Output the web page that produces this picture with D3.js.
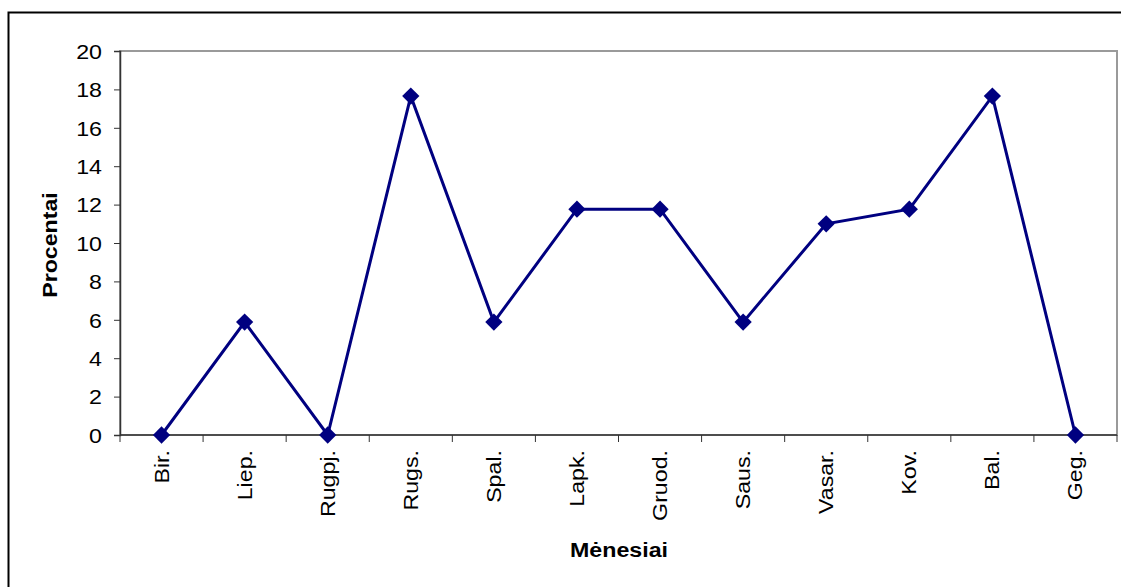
<!DOCTYPE html>
<html>
<head>
<meta charset="utf-8">
<script src="https://cdn.jsdelivr.net/npm/d3@7"></script>
<style>
  body { margin: 0; background: #fff; }
  text { font-family: "Liberation Sans", Arial, sans-serif; }
</style>
</head>
<body>
<script>
  // chart data
  var months = ["Bir.", "Liep.", "Rugpj.", "Rugs.", "Spal.", "Lapk.", "Gruod.", "Saus.", "Vasar.", "Kov.", "Bal.", "Geg."];
  var percents = [0, 5.88, 0, 17.65, 5.88, 11.76, 11.76, 5.88, 11, 11.76, 17.65, 0];
  var yTicks = [0, 2, 4, 6, 8, 10, 12, 14, 16, 18, 20];

  var W = 1121, H = 587;
  var margin = {top: 51, right: 4, bottom: 152, left: 120},
      width = W - margin.left - margin.right,
      height = H - margin.top - margin.bottom;

  // the original text is drawn a bit wide, so stretch it along its own x
  var stretch = "scale(1.16,1)";

  var svg = d3.select("body").append("svg")
      .attr("width", W)
      .attr("height", H);

  // outer frame (runs off the right and bottom edge)
  svg.append("rect")
      .attr("x", 8.5).attr("y", 12.5)
      .attr("width", W + 10).attr("height", H + 10)
      .attr("fill", "none")
      .attr("stroke", "#000")
      .attr("stroke-width", 2);

  var g = svg.append("g")
      .attr("transform", "translate(" + margin.left + "," + margin.top + ")");

  var x = d3.scaleBand().domain(months).range([0, width]);
  var y = d3.scaleLinear().domain([0, 20]).range([height, 0]);

  // plot area border
  g.append("rect")
      .attr("x", 0).attr("y", 0)
      .attr("width", width).attr("height", height)
      .attr("fill", "none")
      .attr("stroke", "#9a9a9a")
      .attr("stroke-width", 2);

  // Y axis
  var yAxis = g.append("g")
      .call(d3.axisLeft(y).tickValues(yTicks).tickSize(6));
  yAxis.select(".domain").attr("stroke", "#333").attr("stroke-width", 1.5);
  yAxis.selectAll(".tick line").attr("stroke", "#333");
  yAxis.selectAll(".tick text")
      .attr("x", 0)
      .attr("dy", "0.36em")
      .attr("transform", "translate(-18,0) " + stretch)
      .attr("font-size", 20)
      .attr("fill", "#000")
      .style("font-family", "Liberation Sans, Arial, sans-serif");

  // X axis: ticks on category boundaries
  var xAxis = g.append("g")
      .attr("transform", "translate(0," + height + ")");
  xAxis.append("line")
      .attr("x1", 0).attr("x2", width)
      .attr("stroke", "#333").attr("stroke-width", 1.5);
  xAxis.selectAll(".bt")
      .data(months.concat(["end"]))
    .enter().append("line")
      .attr("x1", function(d, i) { return i * x.step(); })
      .attr("x2", function(d, i) { return i * x.step(); })
      .attr("y1", 0).attr("y2", 7)
      .attr("stroke", "#333");
  xAxis.selectAll(".lbl")
      .data(months)
    .enter().append("text")
      .attr("transform", function(d) {
        return "translate(" + (x(d) + x.bandwidth() / 2 + 7) + ",15) rotate(-90) " + stretch;
      })
      .attr("text-anchor", "end")
      .attr("font-size", 20)
      .text(function(d) { return d; });

  // line
  var line = d3.line()
      .x(function(d, i) { return x(months[i]) + x.bandwidth() / 2; })
      .y(function(d) { return y(d); });

  g.append("path")
      .datum(percents)
      .attr("d", line)
      .attr("fill", "none")
      .attr("stroke", "#000080")
      .attr("stroke-width", 3);

  g.selectAll(".pt")
      .data(percents)
    .enter().append("path")
      .attr("d", d3.symbol().type(d3.symbolDiamond2).size(190))
      .attr("transform", function(d, i) {
        return "translate(" + (x(months[i]) + x.bandwidth() / 2) + "," + y(d) + ")";
      })
      .attr("fill", "#000080");

  // axis titles
  svg.append("text")
      .attr("transform", "translate(57,245) rotate(-90) " + stretch)
      .attr("text-anchor", "middle")
      .attr("font-size", 20)
      .attr("font-weight", "bold")
      .text("Procentai");

  svg.append("text")
      .attr("transform", "translate(619,557) " + stretch)
      .attr("text-anchor", "middle")
      .attr("font-size", 20)
      .attr("font-weight", "bold")
      .text("Mėnesiai");
</script>
</body>
</html>
